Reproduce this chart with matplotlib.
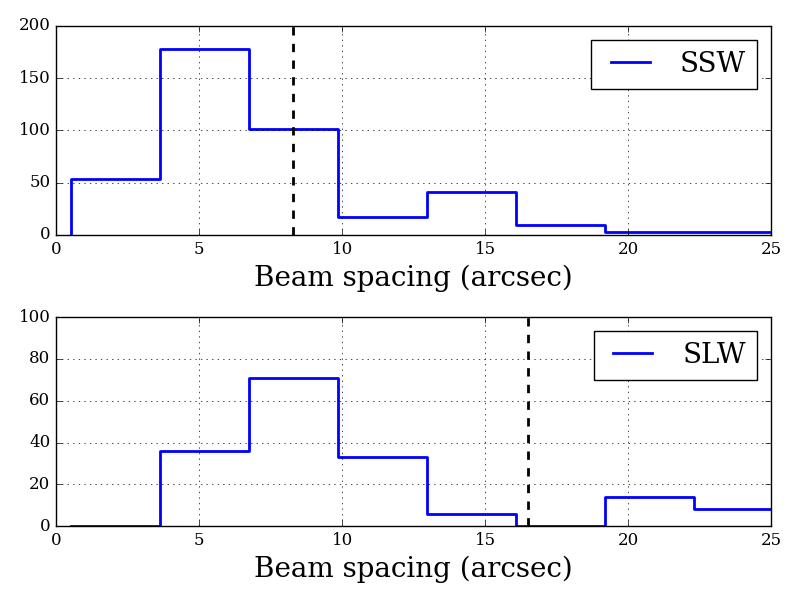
import matplotlib
matplotlib.use('Agg')
import matplotlib.pyplot as plt
import numpy as np

plt.style.use('classic')
plt.rcParams['font.family'] = ['DejaVu Serif']

# bin edges (arcsec) and counts per instrument
bin_edges = [0.52, 3.63, 6.74, 9.85, 12.96, 16.07, 19.18, 22.29, 25.40]
ssw_counts = [54, 178, 101, 17, 41, 10, 3, 3]
slw_counts = [0, 36, 71, 33, 6, 0, 14, 8]
ssw_line = 8.29
slw_line = 16.5

fig, axes = plt.subplots(2, 1, figsize=(8, 6), dpi=100)
fig.subplots_adjust(left=0.07, right=0.964, top=0.957, bottom=0.123, hspace=0.392)

panels = [(axes[0], ssw_counts, 'SSW', ssw_line, 200),
          (axes[1], slw_counts, 'SLW', slw_line, 100)]

for ax, counts, name, vline, ymax in panels:
    xs = np.concatenate([[bin_edges[0]], bin_edges])
    ys = np.concatenate([[0], counts, [counts[-1]]])
    ax.plot(xs, ys, drawstyle='steps-post', color='b', lw=2, label=name)
    ax.axvline(vline, color='k', ls='--', lw=2)
    ax.set_xlim(0, 25)
    ax.set_ylim(0, ymax)
    ax.grid(True)
    ax.set_xlabel('Beam spacing (arcsec)', fontsize=20)
    ax.legend(loc='upper right', fontsize=20)

plt.savefig('out.png', dpi=100)
